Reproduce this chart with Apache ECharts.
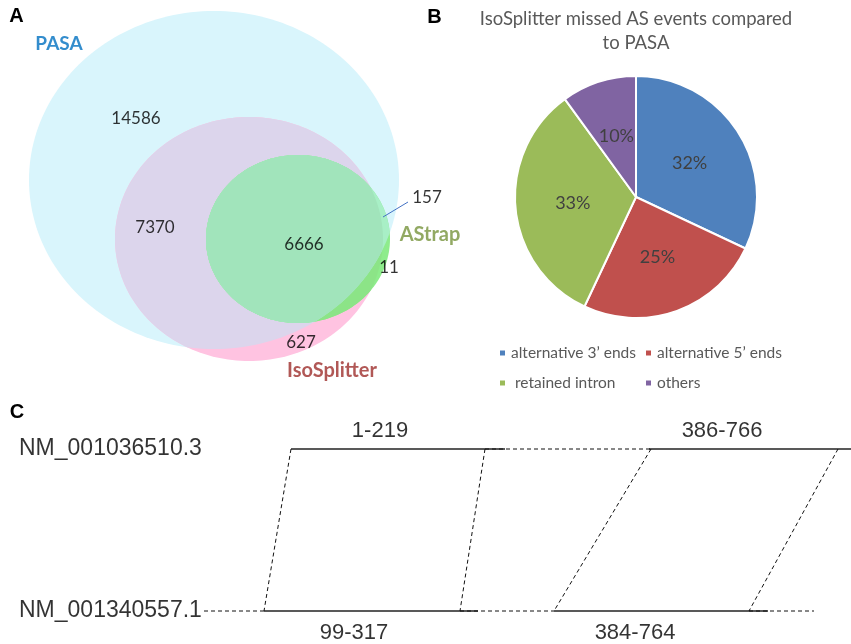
<!DOCTYPE html>
<html>
<head>
<meta charset="utf-8">
<script src="https://cdn.jsdelivr.net/npm/echarts@6/dist/echarts.min.js"></script>
<style>
  html, body { margin: 0; padding: 0; background: #fff; }
  #chart { width: 851px; height: 644px; }
</style>
</head>
<body>
<div id="chart"></div>
<script>
// ---- panel A : venn (axis units = figure px) ----
const vennSets = ['PASA', 'IsoSplitter', 'AStrap'];
const vennCx = [214, 249, 298];
const vennCy = [180, 239, 239];
const vennRx = [185, 134, 92];
const vennRy = [169, 122, 84];
const vennNameX = [59, 332, 430];
const vennNameY = [44, 371, 235];

const vennCounts = [14586, 7370, 6666, 627, 11, 157];
const vennCountX = [136, 155, 304, 301, 389, 427];
const vennCountY = [119, 228, 245, 343, 268, 198];
const leader157 = [[383, 217], [408, 202]];

// ---- panel B : pie ----
const eventTypes = ['alternative 3’ ends', 'alternative 5’ ends', 'retained intron', 'others'];
const eventShares = [32, 25, 33, 10];

// ---- panel C : alignment sketch ----
const transcripts = ['NM_001036510.3', 'NM_001340557.1'];
const transcriptY = [449, 611];
const exonLabels = [['1-219', '386-766'], ['99-317', '384-764']];
const exonStart = [[291, 649], [264, 554]];
const exonEnd = [[505, 851], [478, 768]];
const gapStart = [[485], [204, 460, 749]];
const gapEnd = [[651], [264, 554, 814]];
const linkTopX = [291, 485, 651, 838];
const linkBottomX = [264, 460, 554, 749];
const exonLabelX = [[380, 722], [354, 635]];
const exonLabelY = [431, 633];

const chart = echarts.init(document.getElementById('chart'));

function ellipse(api, i) {
  const pts = [];
  for (let k = 0; k < 200; k++) {
    const t = k / 200 * Math.PI * 2;
    pts.push(api.coord([vennCx[i] + vennRx[i] * Math.cos(t), vennCy[i] + vennRy[i] * Math.sin(t)]));
  }
  return pts;
}

function cross(ax, ay, bx, by) { return ax * by - ay * bx; }

// clip a polygon by a convex one (sutherland-hodgman)
function clipPoly(subject, clipper) {
  let out = subject;
  for (let i = 0; i < clipper.length && out.length; i++) {
    const a = clipper[i], b = clipper[(i + 1) % clipper.length];
    const ins = p => cross(b[0] - a[0], b[1] - a[1], p[0] - a[0], p[1] - a[1]) >= 0;
    const hit = (s, e) => {
      const dx = e[0] - s[0], dy = e[1] - s[1];
      const t = cross(a[0] - s[0], a[1] - s[1], b[0] - a[0], b[1] - a[1]) / cross(dx, dy, b[0] - a[0], b[1] - a[1]);
      return [s[0] + t * dx, s[1] + t * dy];
    };
    const input = out;
    out = [];
    let s = input[input.length - 1];
    for (const e of input) {
      if (ins(e)) {
        if (!ins(s)) out.push(hit(s, e));
        out.push(e);
      } else if (ins(s)) {
        out.push(hit(s, e));
      }
      s = e;
    }
  }
  return out;
}

function poly(points, fill) {
  return { type: 'polygon', shape: { points: points }, style: { fill: fill } };
}

function renderVenn(params, api) {
  const i = params.dataIndex;
  const pasa = ellipse(api, 0), iso = ellipse(api, 1), astrap = ellipse(api, 2);
  let kids = [];
  if (i === 0) {
    kids = [poly(pasa, '#D9F5FC')];
  } else if (i === 1) {
    kids = [poly(iso, '#FFC3E1'), poly(clipPoly(iso, pasa), '#DCD5EC')];
  } else {
    const inPasa = clipPoly(astrap, pasa);
    kids = [
      poly(astrap, '#8EEC8C'),
      poly(clipPoly(astrap, iso), '#8CE487'),
      poly(inPasa, '#A8EFC6'),
      poly(clipPoly(inPasa, iso), '#A1E4BB')
    ];
  }
  return { type: 'group', children: kids };
}

function renderSegment(params, api) {
  const p1 = api.coord([api.value(0), api.value(1)]);
  const p2 = api.coord([api.value(2), api.value(3)]);
  return {
    type: 'line',
    shape: { x1: p1[0], y1: p1[1], x2: p2[0], y2: p2[1] },
    style: { stroke: '#222', lineWidth: 1.6, fill: null }
  };
}

const exonRows = [], gapRows = [], linkRows = [];
transcriptY.forEach((y, r) => {
  exonStart[r].forEach((x, k) => exonRows.push([x, y, exonEnd[r][k], y]));
  gapStart[r].forEach((x, k) => gapRows.push([x, y, gapEnd[r][k], y]));
});
linkTopX.forEach((x, k) => linkRows.push([x, transcriptY[0], linkBottomX[k], transcriptY[1]]));

const exonLabelData = [];
exonLabels.forEach((row, r) => row.forEach((t, k) => exonLabelData.push([exonLabelX[r][k], exonLabelY[r], t])));

const nameColors = ['#0070C0', '#9E2E2C', '#77933C'];
const nameSizes = [19, 20, 20];

const option = {
  animation: false,
  backgroundColor: '#fff',
  grid: { left: 0, top: 0, width: 851, height: 644 },
  xAxis: { type: 'value', min: 0, max: 851, show: false },
  yAxis: { type: 'value', min: 0, max: 644, inverse: true, show: false },
  color: ['#4F81BD', '#C0504D', '#9BBB59', '#8064A2'],
  legend: eventTypes.map((n, i) => ({
    data: [n],
    left: [498, 644, 498, 644][i],
    top: [345, 345, 375, 375][i],
    padding: 0,
    icon: 'rect',
    itemWidth: 7,
    itemHeight: 7,
    selectedMode: false,
    formatter: name => name === 'retained intron' ? ' ' + name : name,
    textStyle: { color: '#595959', fontSize: 15.5, fontFamily: 'Lato' }
  })),
  graphic: [
    { type: 'text', x: 16.5, y: 16, style: { text: 'A', font: 'bold 20px "Liberation Sans"', fill: '#000', textAlign: 'center', textVerticalAlign: 'middle' } },
    { type: 'text', x: 434.5, y: 17.5, style: { text: 'B', font: 'bold 20px "Liberation Sans"', fill: '#000', textAlign: 'center', textVerticalAlign: 'middle' } },
    { type: 'text', x: 17, y: 412, style: { text: 'C', font: 'bold 20px "Liberation Sans"', fill: '#000', textAlign: 'center', textVerticalAlign: 'middle' } },
    { type: 'text', x: 636, y: 31, style: { text: 'IsoSplitter missed AS events compared\nto PASA', font: '18.5px Lato', fill: '#595959', lineHeight: 24, textAlign: 'center', textVerticalAlign: 'middle' } }
  ],
  series: [
    {
      type: 'custom', name: 'venn', silent: true,
      data: vennSets.map((n, i) => [vennCx[i], vennCy[i]]),
      renderItem: renderVenn
    },
    {
      type: 'line', name: 'leader', silent: true, symbol: 'none',
      data: leader157,
      lineStyle: { color: '#4472C4', width: 1 }
    },
    {
      type: 'scatter', name: 'counts', silent: true, symbolSize: 1,
      itemStyle: { color: 'transparent' },
      data: vennCounts.map((v, i) => [vennCountX[i], vennCountY[i], v]),
      label: { show: true, position: 'inside', formatter: p => p.value[2], color: '#000', fontSize: 17, fontFamily: 'Lato' }
    },
    {
      type: 'scatter', name: 'sets', silent: true, symbolSize: 1,
      itemStyle: { color: 'transparent' },
      data: vennSets.map((n, i) => ({ value: [vennNameX[i], vennNameY[i]], label: { color: nameColors[i], fontSize: nameSizes[i] } })),
      label: { show: true, position: 'inside', formatter: p => vennSets[p.dataIndex], fontWeight: 'bold', fontFamily: 'Lato' }
    },
    {
      type: 'pie', name: 'missed',
      center: [636, 197], radius: 121,
      startAngle: 90, clockwise: true,
      data: eventTypes.map((n, i) => ({ name: n, value: eventShares[i] })),
      itemStyle: { borderColor: '#fff', borderWidth: 2 },
      label: { position: 'inside', formatter: '{c}%', color: '#404040', fontSize: 18, fontFamily: 'Lato' },
      labelLine: { show: false },
      emphasis: { disabled: true }
    },
    {
      type: 'custom', name: 'exons', silent: true,
      data: exonRows, renderItem: renderSegment
    },
    {
      type: 'custom', name: 'gaps', silent: true,
      data: gapRows.concat(linkRows),
      renderItem: (params, api) => {
        const el = renderSegment(params, api);
        el.style = { stroke: '#111', lineWidth: 1, lineDash: [4, 3], fill: null };
        return el;
      }
    },
    {
      type: 'scatter', name: 'transcripts', silent: true, symbolSize: 1,
      itemStyle: { color: 'transparent' },
      data: transcripts.map((t, i) => [19, transcriptY[i]]),
      label: { show: true, position: 'inside', align: 'left', verticalAlign: 'middle', formatter: p => transcripts[p.dataIndex], color: '#000', fontSize: 23, fontFamily: 'Liberation Sans' }
    },
    {
      type: 'scatter', name: 'ranges', silent: true, symbolSize: 1,
      itemStyle: { color: 'transparent' },
      data: exonLabelData,
      label: { show: true, position: 'inside', formatter: p => p.value[2], color: '#000', fontSize: 22, fontFamily: 'Liberation Sans' }
    }
  ]
};

chart.setOption(option);
</script>
</body>
</html>
